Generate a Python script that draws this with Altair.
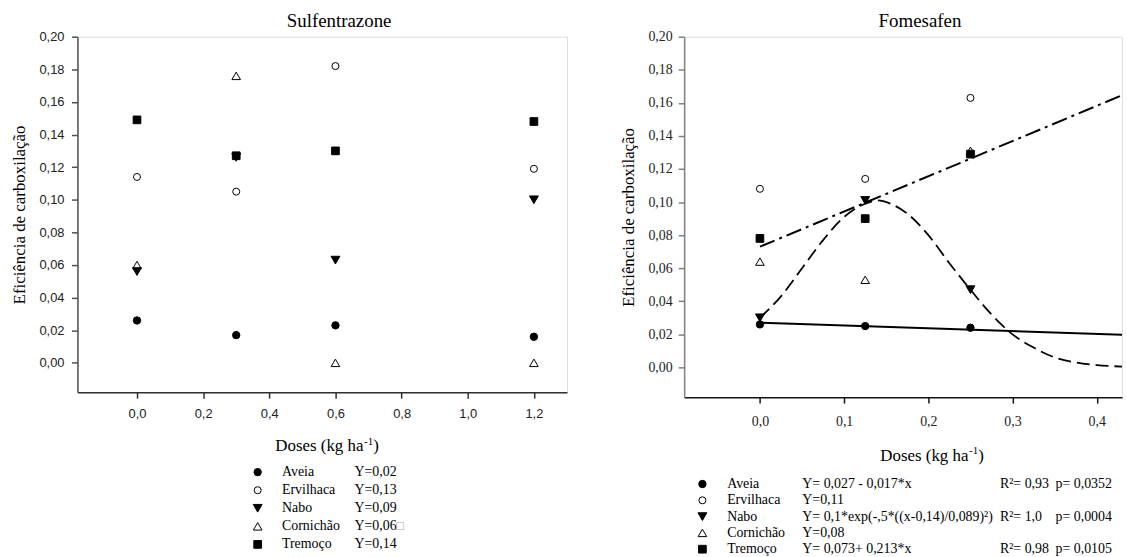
import altair as alt
import pandas as pd

# ---------------- data ----------------
species = ["Aveia", "Ervilhaca", "Nabo", "Cornichão", "Tremoço"]
marker_shapes = ["circle", "circle", "triangle-down", "triangle-up", "square"]
marker_fills = ["black", "white", "black", "white", "black"]
marker_sizes = [55, 50, 80, 75, 60]
draw_order = ["Aveia", "Ervilhaca", "Cornichão", "Nabo", "Tremoço"]

# Sulfentrazone
sulf_doses = [0.0, 0.3, 0.6, 1.2]
sulf_aveia = [0.026, 0.017, 0.023, 0.016]
sulf_ervilhaca = [0.114, 0.105, 0.182, 0.119]
sulf_nabo = [0.056, 0.126, 0.063, 0.100]
sulf_cornichao = [0.060, 0.176, 0.000, 0.000]
sulf_tremoco = [0.149, 0.127, 0.130, 0.148]

# Fomesafen
fome_doses = [0.0, 0.125, 0.25]
fome_aveia = [0.026, 0.025, 0.024]
fome_ervilhaca = [0.108, 0.114, 0.163]
fome_nabo = [0.030, 0.101, 0.047]
fome_cornichao = [0.064, 0.053, 0.131]
fome_tremoco = [0.078, 0.090, 0.129]

# fitted curves (Fomesafen)
aveia_fit_x = [0.0, 0.43]
aveia_fit_y = [0.027, 0.0197]
tremoco_fit_x = [0.0, 0.43]
tremoco_fit_y = [0.073, 0.1646]
nabo_fit_x = [0.0, 0.025, 0.05, 0.075, 0.1, 0.125, 0.14, 0.155, 0.175, 0.2,
              0.225, 0.25, 0.275, 0.3, 0.325, 0.35, 0.375, 0.4, 0.43]
nabo_fit_y = [0.030, 0.043, 0.060, 0.077, 0.091, 0.099, 0.101, 0.099, 0.093, 0.080,
              0.063, 0.047, 0.032, 0.020, 0.012, 0.006, 0.003, 0.0014, 0.0005]

# legend texts
sulf_eq = ["Y=0,02", "Y=0,13", "Y=0,09", "Y=0,06", "Y=0,14"]
fome_eq = ["Y= 0,027 - 0,017*x", "Y=0,11", "Y= 0,1*exp(-,5*((x-0,14)/0,089)²)",
           "Y=0,08", "Y= 0,073+ 0,213*x"]
fome_r2 = ["R²= 0,93", "", "R²= 1,0", "", "R²= 0,98"]
fome_p = ["p= 0,0352", "", "p= 0,0004", "", "p= 0,0105"]

y_ticks = [0.0, 0.02, 0.04, 0.06, 0.08, 0.10, 0.12, 0.14, 0.16, 0.18, 0.20]
sulf_x_ticks = [0.0, 0.2, 0.4, 0.6, 0.8, 1.0, 1.2]
fome_x_ticks = [0.0, 0.1, 0.2, 0.3, 0.4]

SERIF = "'Times New Roman', 'Liberation Serif', 'DejaVu Serif', serif"
SANS = "Arial, 'Liberation Sans', sans-serif"


def points_df(doses, table):
    rows = []
    for sp in draw_order:
        for d, v in zip(doses, table[sp]):
            rows.append({"species": sp, "x": d, "y": v})
    return pd.DataFrame(rows)


sulf_table = {"Aveia": sulf_aveia, "Ervilhaca": sulf_ervilhaca, "Nabo": sulf_nabo,
              "Cornichão": sulf_cornichao, "Tremoço": sulf_tremoco}
fome_table = {"Aveia": fome_aveia, "Ervilhaca": fome_ervilhaca, "Nabo": fome_nabo,
              "Cornichão": fome_cornichao, "Tremoço": fome_tremoco}


def fmt(d):
    return f"replace(format(datum.value, '.{d}f'), '.', ',')"


shape_enc = alt.Shape("species:N", scale=alt.Scale(domain=species, range=marker_shapes), legend=None)
fill_enc = alt.Fill("species:N", scale=alt.Scale(domain=species, range=marker_fills), legend=None)
size_enc = alt.Size("species:N", scale=alt.Scale(type="ordinal", domain=species, range=marker_sizes),
                    legend=None)
one = pd.DataFrame({"k": [0]})


def build_panel(title, doses, table, xdom, xticks, xdec, width, height,
                label_font, label_size, ylabel_pad, xlabel_pad, ydomain_color, xdomain_color,
                leg_cols, leg_y0, leg_dy, leg_font, marker_x, xtitle_x, xtitle_y, fits):
    xscale = alt.Scale(domain=xdom, nice=False, zero=False)
    yscale = alt.Scale(domain=[-0.018, 0.2], nice=False, zero=False)
    xaxis = alt.Axis(values=xticks, labelExpr=fmt(xdec), title=None, grid=False,
                     labelFont=label_font, labelFontSize=label_size, labelColor="#222",
                     labelPadding=xlabel_pad, tickSize=6, tickWidth=1.5, tickColor=xdomain_color,
                     domainColor=xdomain_color, domainWidth=1.5, labelFlush=False)
    yaxis = alt.Axis(values=y_ticks, labelExpr=fmt(2), title="Eficiência de carboxilação",
                     titleFont=SERIF, titleFontSize=17, titleFontWeight="normal", titleColor="black",
                     titlePadding=11, labelFont=label_font, labelFontSize=label_size, labelColor="#222",
                     labelPadding=ylabel_pad, tickSize=6, tickWidth=1.5, tickColor=ydomain_color,
                     domainColor=ydomain_color, domainWidth=1.5, grid=False, labelFlush=False)

    layers = []
    for fx, fy, dash, sw in fits:
        fdf = pd.DataFrame({"x": fx, "y": fy})
        mk = alt.Chart(fdf).mark_line(color="black", strokeWidth=sw, interpolate="monotone",
                                      **({"strokeDash": dash} if dash else {}))
        layers.append(mk.encode(x=alt.X("x:Q", scale=xscale, axis=xaxis),
                                y=alt.Y("y:Q", scale=yscale, axis=yaxis)))

    pts = alt.Chart(points_df(doses, table)).mark_point(
        filled=True, stroke="black", strokeWidth=1, opacity=1
    ).encode(x=alt.X("x:Q", scale=xscale, axis=xaxis),
             y=alt.Y("y:Q", scale=yscale, axis=yaxis),
             shape=shape_enc, fill=fill_enc, size=size_enc)
    layers.append(pts)

    # title
    layers.append(alt.Chart(one).mark_text(
        text=title, font=SERIF, fontSize=19, align="center", baseline="alphabetic", color="black"
    ).encode(x=alt.value(width / 2 + 17), y=alt.value(-10)))

    # x axis title with superscript
    tx = dict(font=SERIF, color="black", align="left", baseline="alphabetic")
    layers.append(alt.Chart(one).mark_text(text="Doses (kg ha", fontSize=17, **tx)
                  .encode(x=alt.value(xtitle_x), y=alt.value(xtitle_y)))
    layers.append(alt.Chart(one).mark_text(text="-1", fontSize=11, **tx)
                  .encode(x=alt.value(xtitle_x + 89.3), y=alt.value(xtitle_y - 7)))
    layers.append(alt.Chart(one).mark_text(text=")", fontSize=17, **tx)
                  .encode(x=alt.value(xtitle_x + 98.5), y=alt.value(xtitle_y)))

    # legend block
    leg = {"species": species, "i": list(range(len(species)))}
    for name, (vals, _) in leg_cols.items():
        leg[name] = vals
    leg_base = alt.Chart(pd.DataFrame(leg)).transform_calculate(py=f"{leg_y0} + {leg_dy} * datum.i")
    ypix = alt.Y("py:Q", scale=None, axis=None)
    layers.append(leg_base.mark_point(filled=True, stroke="black", strokeWidth=1, opacity=1)
                  .encode(x=alt.value(marker_x), y=ypix, shape=shape_enc, fill=fill_enc,
                          size=size_enc))
    for name, (vals, cx) in leg_cols.items():
        layers.append(leg_base.mark_text(font=SERIF, fontSize=leg_font, align="left",
                                         baseline="middle", color="black")
                      .encode(x=alt.value(cx), y=ypix, text=f"{name}:N"))
    return alt.layer(*layers).properties(width=width, height=height)


left = build_panel(
    "Sulfentrazone", sulf_doses, sulf_table, [-0.18, 1.30], sulf_x_ticks, 1, 493, 358,
    SANS, 13, 7.5, 9, "#505050", "#303030",
    {"species": (species, 206), "eq": (sulf_eq, 279)}, 438.5, 18.2, 14, 181.5,
    199.3, 417.7, [],
)
# replacement-glyph box after Cornichão's equation
left_box = alt.Chart(one).mark_text(text="□", fontSize=10, color="#aaaaaa", align="left",
                                    baseline="middle", font="DejaVu Sans").encode(
    x=alt.value(320), y=alt.value(438.5 + 18.2 * 3))
left = alt.layer(left, left_box)

right = build_panel(
    "Fomesafen", fome_doses, fome_table, [-0.09, 0.43], fome_x_ticks, 1, 441, 363,
    SERIF, 14, 6, 12, "#808080", "#151515",
    {"species": (species, 43.3), "eq": (fome_eq, 119), "r2": (fome_r2, 318), "p": (fome_p, 374)},
    450.5, 16.4, 14, 18.4, 197.6, 427,
    [(aveia_fit_x, aveia_fit_y, None, 2),
     (nabo_fit_x, nabo_fit_y, [13, 6], 1.8),
     (tremoco_fit_x, tremoco_fit_y, [16, 5, 3, 5], 2)],
)

chart = alt.hconcat(left, right, spacing=51).properties(
    padding={"left": 9, "top": 9, "right": 0, "bottom": 0}
).configure_view(stroke=None).configure(background="white")

chart.save("out.html", embed_options={"renderer": "svg", "actions": False})
